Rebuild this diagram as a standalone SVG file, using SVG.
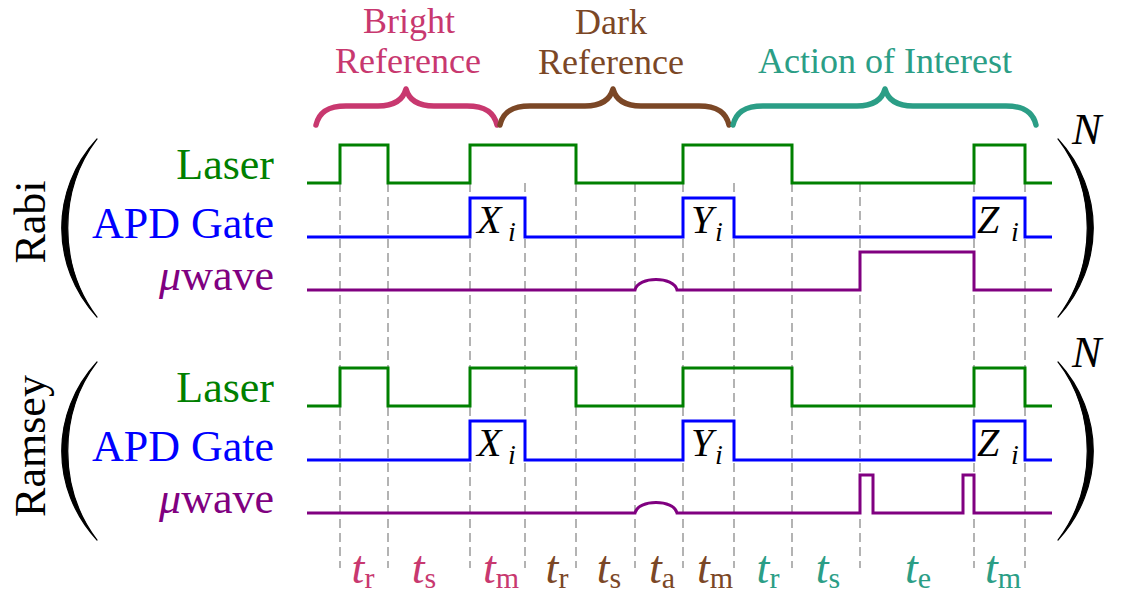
<svg xmlns="http://www.w3.org/2000/svg" width="1121" height="594" viewBox="0 0 1121 594" font-family="'Liberation Serif', 'Times New Roman', serif">
<style>
.lbl{font-size:44px;text-anchor:end}
.top{font-size:36px;text-anchor:middle}
.it{font-style:italic}
.sig{fill:none;stroke-width:3;stroke-linejoin:miter}
.brace{fill:none;stroke-width:5.5;stroke-linecap:round;stroke-linejoin:round}
.dash{stroke:#9a9a9a;stroke-width:1.5;stroke-dasharray:9 5;fill:none}
.paren{fill:#000;stroke:#000;stroke-width:1.2;stroke-linejoin:round}
.tl{font-size:46px;text-anchor:middle;font-style:italic}
.sub{font-size:30px;font-style:normal}
.pink{fill:#C8386F}.brown{fill:#7B4726}.teal{fill:#2B9E86}
.green{fill:#008000}.blue{fill:#0000FF}.purple{fill:#800080}
</style>

<g id="connectors">
<path class="dash" d="M340 183V568M388 183V568M470 183V568M525 183V568M576 183V568M635 183V568M683 183V568M734 183V568M792 183V568M860 183V568M974 183V568M1025 183V568"/>
</g>

<g id="braces">
<path class="brace" stroke="#C8386F" d="M316 125C319 112 328 106 346 106L378 106C394 106 403 100 406 89C409 100 418 106 434 106L467 106C485 106 494 112 497 125"/>
<path class="brace" stroke="#7B4726" d="M500 125C503 112 512 106 530 106L585 106C601 106 610 100 613 89C616 100 625 106 641 106L699 106C717 106 726 112 729 125"/>
<path class="brace" stroke="#2B9E86" d="M733 125C736 112 745 106 763 106L857 106C873 106 882 100 885 89C888 100 897 106 913 106L1006 106C1024 106 1033 112 1036 125"/>
</g>

<g id="section-labels">
<text class="top pink" x="409" y="33">Bright</text>
<text class="top pink" x="408" y="73">Reference</text>
<text class="top brown" x="611" y="34">Dark</text>
<text class="top brown" x="611" y="74">Reference</text>
<text class="top teal" x="885" y="73">Action of Interest</text>
</g>

<g id="rabi">
<text x="45" y="222" font-size="44" text-anchor="middle" transform="rotate(-90 45 222)">Rabi</text>
<path class="paren" d="M97 139C50 190 50 266 97 317C58 266 58 190 97 139Z"/>
<path class="paren" d="M1058 139C1105 190 1105 266 1058 317C1097 266 1097 190 1058 139Z"/>
<text class="it" x="1072" y="144" font-size="44">N</text>
<text class="lbl green" x="274" y="179">Laser</text>
<text class="lbl blue" x="274" y="238">APD Gate</text>
<text class="lbl purple" x="274" y="290"><tspan class="it">μ</tspan>wave</text>
<path class="sig" stroke="#008000" d="M307 183H340V145H388V183H470V145H576V183H683V145H792V183H974V145H1025V183H1052"/>
<path class="sig" stroke="#0000FF" d="M307 237H470V198H525V237H683V198H734V237H974V198H1025V237H1052"/>
<path class="sig" stroke="#800080" d="M307 290H635C638 276 674 276 677 290H860V252H974V290H1052"/>
<text class="it" x="477" y="233" font-size="40">X</text><text class="it" x="508" y="241" font-size="28">i</text>
<text class="it" x="691" y="233" font-size="40">Y</text><text class="it" x="715" y="241" font-size="28">i</text>
<text class="it" x="977" y="233" font-size="40">Z</text><text class="it" x="1011" y="241" font-size="28">i</text>
</g>

<g id="ramsey">
<text x="45" y="446" font-size="44" text-anchor="middle" transform="rotate(-90 45 446)">Ramsey</text>
<path class="paren" d="M97 362C50 413 50 489 97 540C58 489 58 413 97 362Z"/>
<path class="paren" d="M1058 362C1105 413 1105 489 1058 540C1097 489 1097 413 1058 362Z"/>
<text class="it" x="1072" y="367" font-size="44">N</text>
<text class="lbl green" x="274" y="402">Laser</text>
<text class="lbl blue" x="274" y="461">APD Gate</text>
<text class="lbl purple" x="274" y="513"><tspan class="it">μ</tspan>wave</text>
<path class="sig" stroke="#008000" d="M307 406H340V368H388V406H470V368H576V406H683V368H792V406H974V368H1025V406H1052"/>
<path class="sig" stroke="#0000FF" d="M307 460H470V421H525V460H683V421H734V460H974V421H1025V460H1052"/>
<path class="sig" stroke="#800080" d="M307 513H635C638 499 674 499 677 513H860V475H873V513H963V475H974V513H1052"/>
<text class="it" x="477" y="456" font-size="40">X</text><text class="it" x="508" y="464" font-size="28">i</text>
<text class="it" x="691" y="456" font-size="40">Y</text><text class="it" x="715" y="464" font-size="28">i</text>
<text class="it" x="977" y="456" font-size="40">Z</text><text class="it" x="1011" y="464" font-size="28">i</text>
</g>

<g id="time-labels">
<text class="tl pink" x="363" y="583">t<tspan class="sub" dy="5">r</tspan></text>
<text class="tl pink" x="424" y="583">t<tspan class="sub" dy="5">s</tspan></text>
<text class="tl pink" x="501" y="583">t<tspan class="sub" dy="5">m</tspan></text>
<text class="tl brown" x="557" y="583">t<tspan class="sub" dy="5">r</tspan></text>
<text class="tl brown" x="609" y="583">t<tspan class="sub" dy="5">s</tspan></text>
<text class="tl brown" x="662" y="583">t<tspan class="sub" dy="5">a</tspan></text>
<text class="tl brown" x="715" y="583">t<tspan class="sub" dy="5">m</tspan></text>
<text class="tl teal" x="768" y="583">t<tspan class="sub" dy="5">r</tspan></text>
<text class="tl teal" x="828" y="583">t<tspan class="sub" dy="5">s</tspan></text>
<text class="tl teal" x="918" y="583">t<tspan class="sub" dy="5">e</tspan></text>
<text class="tl teal" x="1003" y="583">t<tspan class="sub" dy="5">m</tspan></text>
</g>
</svg>
